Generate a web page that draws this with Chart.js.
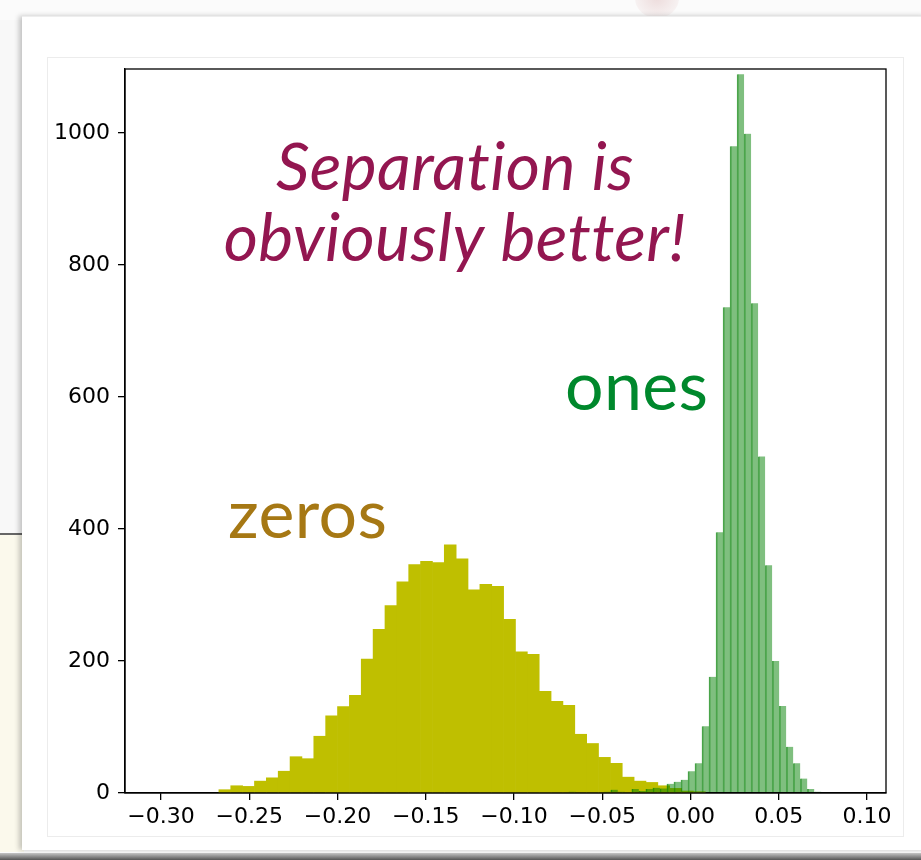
<!DOCTYPE html>
<html>
<head>
<meta charset="utf-8">
<script src="https://cdn.jsdelivr.net/npm/chart.js@4/dist/chart.umd.min.js"></script>
<style>
  body { margin: 0; background: #fbfbfb; }
  #page { position: relative; width: 921px; height: 860px; overflow: hidden; background: #fbfbfb; }
  .blur { position: absolute; left: 635px; top: -22px; width: 44px; height: 40px; border-radius: 50%;
          background: radial-gradient(#eddcdc, rgba(240,225,225,0)); }
  .leftTop { position: absolute; left: 0; top: 20px; width: 24px; height: 513px; background: #f8f8f8; }
  .beige { position: absolute; left: 0; top: 533px; width: 24px; height: 317px; background: #fbf9ec;
           border-top: 2px solid #666; }
  .panel { position: absolute; left: 22px; top: 16px; width: 905px; height: 833px; background: #fff;
           box-shadow: -3px 0 5px rgba(0,0,0,0.22); border-top: 1px solid #eee; }
  .frame { position: absolute; left: 47px; top: 57px; width: 855px; height: 778px; border: 1px solid #ececec; }
  .bottom { position: absolute; left: 0; top: 853px; width: 921px; height: 7px;
            background: linear-gradient(#c4c4c4, #555); }
  canvas { position: absolute; left: 0; top: 0; }
</style>
</head>
<body>
<div id="page">
  <div class="blur"></div>
  <div class="leftTop"></div>
  <div class="beige"></div>
  <div class="panel"></div>
  <div class="frame"></div>
  <div class="bottom"></div>
  <canvas id="hist" width="921" height="860"></canvas>
</div>
<script>
// histogram of "zeros": first bin edge, bin width, counts
const zerosStart = -0.2672;
const zerosWidth = 0.006722;
const zerosCounts = [5, 11, 10, 18, 23, 33, 55, 52, 86, 117, 131, 148, 203, 248, 284, 320, 346, 351, 349, 376,
  355, 308, 316, 313, 263, 214, 210, 154, 139, 133, 89, 75, 54, 45, 24, 18, 16, 11, 7, 3, 2];

// histogram of "ones"
const onesStart = -0.06903;
const onesWidth = 0.003977;
const onesCounts = [2, 0, 0, 1, 0, 2, 5, 2, 1, 6, 3, 6, 8, 7, 14, 17, 20, 33, 45, 101, 176, 395, 736, 980, 1089,
  999, 742, 510, 345, 200, 132, 70, 45, 22, 6, 2];

const xTicks = [-0.30, -0.25, -0.20, -0.15, -0.10, -0.05, 0.00, 0.05, 0.10];
const xTickLabels = ['\u22120.30', '\u22120.25', '\u22120.20', '\u22120.15', '\u22120.10', '\u22120.05', '0.00', '0.05', '0.10'];
const yTicks = [0, 200, 400, 600, 800, 1000];
const yTickLabels = ['0', '200', '400', '600', '800', '1000'];

// text written on the plot, placed in data coordinates
const notes = [
  { text: 'Separation is', x: -0.1334, y: 914, color: '#931650', font: 'italic 66px Lato', align: 'center' },
  { text: 'obviously better!', x: -0.1334, y: 806, color: '#931650', font: 'italic 66px Lato', align: 'center' },
  { text: 'ones', x: -0.0711, y: 580, color: '#00882c', font: '68px Lato', align: 'left' },
  { text: 'zeros', x: -0.2620, y: 386, color: '#a67814', font: '68px Lato', align: 'left' }
];

function toPoints(start, width, counts) {
  return counts.map((c, i) => ({ x: start + (i + 0.5) * width, y: c }));
}

const boxAndNotes = {
  id: 'boxAndNotes',
  afterDatasetsDraw(chart) {
    const ctx = chart.ctx;
    const a = chart.chartArea;
    const xs = chart.scales.x, ys = chart.scales.y;
    ctx.save();
    notes.forEach(n => {
      ctx.font = n.font;
      ctx.letterSpacing = '0.4px'; // keeps Lato from joining "ti"
      ctx.fillStyle = n.color;
      ctx.textAlign = n.align;
      ctx.textBaseline = 'alphabetic';
      ctx.fillText(n.text, xs.getPixelForValue(n.x), ys.getPixelForValue(n.y));
    });
    ctx.letterSpacing = '0px';
    ctx.strokeStyle = '#000';
    ctx.lineWidth = 1.3;
    ctx.strokeRect(a.left, a.top, a.right - a.left, a.bottom - a.top);
    ctx.restore();
  }
};

const xMin = -0.3204, xMax = 0.1108;

new Chart(document.getElementById('hist'), {
  type: 'bar',
  data: {
    datasets: [
      {
        label: 'ones',
        data: toPoints(onesStart, onesWidth, onesCounts),
        xAxisID: 'x2',
        backgroundColor: 'rgba(0,128,0,0.5)',
        borderColor: 'rgba(0,128,0,0.66)',
        borderWidth: { left: 1, right: 0, top: 0, bottom: 0 },
        borderSkipped: false,
        barPercentage: 1,
        categoryPercentage: 1,
        grouped: false,
        order: 1
      },
      {
        label: 'zeros',
        data: toPoints(zerosStart, zerosWidth, zerosCounts),
        xAxisID: 'x',
        backgroundColor: '#bfbf00',
        borderWidth: 0,
        barPercentage: 1,
        categoryPercentage: 1,
        grouped: false,
        order: 2
      }
    ]
  },
  options: {
    responsive: false,
    animation: false,
    layout: { padding: { left: 0, top: 69, right: 35, bottom: 0 } },
    plugins: { legend: { display: false }, tooltip: { enabled: false } },
    scales: {
      x: {
        type: 'linear',
        min: xMin, max: xMax,
        offset: false,
        grid: { offset: false, drawOnChartArea: false, drawTicks: true, tickLength: 7, color: '#000', lineWidth: 1.3 },
        border: { display: true, color: '#000', width: 1.3 },
        afterBuildTicks(scale) { scale.ticks = xTicks.map(v => ({ value: v })); },
        afterFit(scale) { scale.height = 67; },
        ticks: {
          color: '#000',
          font: { family: 'DejaVu Sans', size: 22 },
          padding: 4,
          maxRotation: 0,
          autoSkip: false,
          callback: (v, i) => xTickLabels[i]
        }
      },
      x2: {
        type: 'linear',
        display: false,
        min: xMin, max: xMax,
        offset: false,
        grid: { offset: false }
      },
      y: {
        min: 0, max: 1097,
        grid: { drawOnChartArea: false, drawTicks: true, tickLength: 7, color: '#000', lineWidth: 1.3 },
        border: { display: true, color: '#000', width: 1.3 },
        afterBuildTicks(scale) { scale.ticks = yTicks.map(v => ({ value: v })); },
        afterFit(scale) { scale.width = 125; },
        ticks: {
          color: '#000',
          font: { family: 'DejaVu Sans', size: 22 },
          padding: 8,
          autoSkip: false,
          callback: (v, i) => yTickLabels[i]
        }
      }
    }
  },
  plugins: [boxAndNotes]
});
</script>
</body>
</html>
